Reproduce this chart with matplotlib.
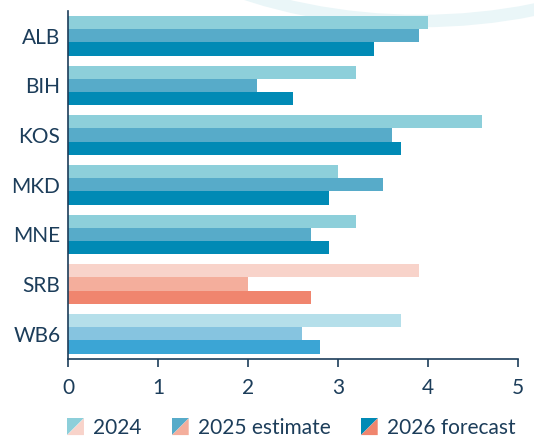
import numpy as np
import matplotlib
matplotlib.use('Agg')
import matplotlib.pyplot as plt
from matplotlib.patches import Polygon, Arc
from matplotlib.legend_handler import HandlerBase

plt.rcParams['font.family'] = ['Lato', 'DejaVu Sans']

# data
countries = ['ALB', 'BIH', 'KOS', 'MKD', 'MNE', 'SRB', 'WB6']
v2024 = [4.0, 3.2, 4.6, 3.0, 3.2, 3.9, 3.7]
v2025 = [3.9, 2.1, 3.6, 3.5, 2.7, 2.0, 2.6]
v2026 = [3.4, 2.5, 3.7, 2.9, 2.9, 2.7, 2.8]
series_names = ['2024', '2025 estimate', '2026 forecast']

# colours per series, by country type
blue = ['#8DCFDA', '#57ABC9', '#018AB5']
salmon = ['#F8D3CA', '#F4AE9C', '#F0856E']
light = ['#B5DFEA', '#86C4E0', '#3BA5D5']
country_colors = {'SRB': salmon, 'WB6': light}

text_col = '#1C3D5A'

fig = plt.figure(figsize=(5.34, 4.38), dpi=100)
ax = fig.add_axes([68/534, 1 - 358.5/438, (518 - 68)/534, (358.5 - 11)/438])
ax.patch.set_alpha(0)

# background decoration arc
arc = Arc((420/534, 1 + 249/438), 800/534, 540/438, theta1=200, theta2=340,
          transform=fig.transFigure, color='#EAF6F8', lw=9, zorder=0)
fig.add_artist(arc)

bh = 0.8 / 3
y = np.arange(len(countries))
for k, vals in enumerate([v2024, v2025, v2026]):
    cols = [country_colors.get(c, blue)[k] for c in countries]
    ax.barh(y - bh + k * bh, vals, height=bh, color=cols, zorder=2)

ax.set_ylim(len(countries) - 0.5, -0.5)
ax.set_xlim(0, 5)
ax.set_yticks(y)
ax.set_yticklabels(countries)
ax.set_xticks(range(6))

for s in ['top', 'right']:
    ax.spines[s].set_visible(False)
for s in ['left', 'bottom']:
    ax.spines[s].set_color(text_col)
    ax.spines[s].set_linewidth(1.2)
ax.tick_params(axis='y', length=0, pad=5.5, labelsize=15, labelcolor=text_col)
ax.tick_params(axis='x', length=6, width=1.2, color=text_col, pad=8,
               labelsize=15, labelcolor=text_col)


class SplitHandler(HandlerBase):
    def __init__(self, c1, c2):
        super().__init__()
        self.c1 = c1
        self.c2 = c2

    def create_artists(self, legend, orig_handle, xdescent, ydescent,
                       width, height, fontsize, trans):
        s = min(width, height * 1.3)
        x0 = -xdescent + (width - s) / 2
        y0 = -ydescent + (height - s) / 2
        p1 = Polygon([[x0, y0], [x0, y0 + s], [x0 + s, y0 + s]], closed=True,
                     facecolor=self.c1, edgecolor='none', transform=trans)
        p2 = Polygon([[x0, y0], [x0 + s, y0 + s], [x0 + s, y0]], closed=True,
                     facecolor=self.c2, edgecolor='none', transform=trans)
        return [p1, p2]


handles = [object(), object(), object()]
hmap = {h: SplitHandler(blue[i], salmon[i]) for i, h in enumerate(handles)}
leg = fig.legend(handles, series_names, handler_map=hmap, ncol=3,
                 loc='center', bbox_to_anchor=(291.5/534, 1 - 428/438),
                 frameon=False, fontsize=15, handlelength=0.8, handleheight=0.8,
                 handletextpad=0.45, columnspacing=1.45)
for t in leg.get_texts():
    t.set_color(text_col)

fig.savefig('out.png', dpi=100)
